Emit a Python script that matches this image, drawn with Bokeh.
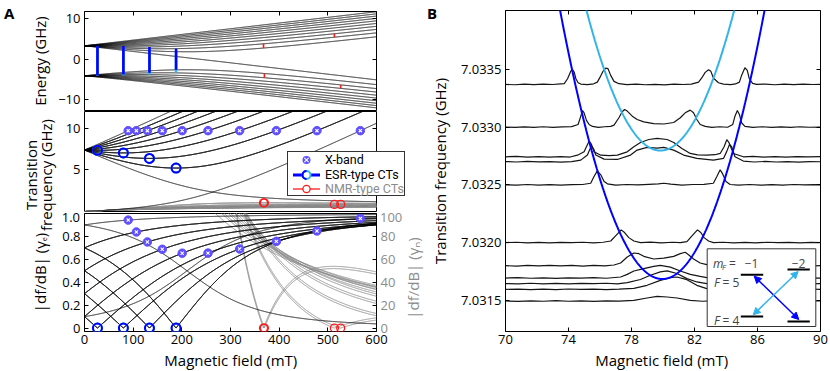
import numpy as np
from bokeh.plotting import figure
from bokeh.layouts import row, column
from bokeh.models import (Range1d, LinearAxis, FixedTicker, Label, BoxAnnotation, Arrow, NormalHead,
                          PrintfTickFormatter, Div)
from bokeh.embed import file_html
from bokeh.resources import INLINE

FONT = "Open Sans"
DARK_BLUE = "#0000ff"
LIGHT_BLUE = "#33b4e8"
RED = "#ff1a1a"
XBAND_COLOR = "#5f4fff"
GRAY = "#8f8f8f"
TEXT_GRAY = "#8c8c8c"

# ---------------- data ----------------
# spin-Hamiltonian parameters of the Si:Bi donor (S = 1/2, I = 9/2) used for panel A curves
A_HF_GHZ = 1.47517
GAMMA_E_GHZ_PER_T = 27.997
GAMMA_N_GHZ_PER_T = 0.0069618
NUCLEAR_SPIN = 4.5

ESR_CT_FIELDS_MT = [26.6, 79.9, 133.3, 187.8]
NMR_CT_FIELDS_MT = [367.0, 512.0, 526.0]
X_BAND_GHZ = 9.7

FIELD_TICKS_A = [0, 100, 200, 300, 400, 500, 600]
ENERGY_TICKS = [-10, 0, 10]
FREQ_TICKS_A = [5, 10]
SLOPE_E_TICKS = [0, 0.2, 0.4, 0.6, 0.8, 1.0]
SLOPE_N_TICKS = [0, 20, 40, 60, 80, 100]
FIELD_TICKS_B = [70, 74, 78, 82, 86, 90]
FREQ_TICKS_B = [7.0315, 7.0320, 7.0325, 7.0330, 7.0335]

LEGEND_LABELS = ["X-band", "ESR-type CTs", "NMR-type CTs"]

# measured field sweeps of panel B: baseline frequency (GHz), field (mT), signal (kHz on the plot scale)
TRACE_BASELINES_GHZ = [7.03337, 7.03300, 7.032743, 7.03270, 7.03250, 7.03200,
                       7.03180, 7.031693, 7.031645, 7.031595, 7.031494]
TRACE_FIELDS_MT = [
    [70.0,70.6,71.2,71.8,72.4,73.0,73.5,73.73,73.94,74.15,74.26,74.36,74.47,74.61,74.78,75.2,75.6,75.83,76.04,76.21,
     76.36,76.51,76.68,76.89,77.2,77.7,78.3,78.9,79.5,80.1,80.7,81.3,81.8,82.26,82.47,82.68,82.89,83.04,83.2,83.52,
     83.84,84.3,84.6,84.85,84.99,85.2,85.35,85.48,85.69,85.94,86.5,87.1,87.7,88.3,88.9,89.5,90.0],
    [70.0,70.6,71.2,71.8,72.4,73.0,73.6,74.2,74.61,74.78,74.89,74.99,75.14,75.31,75.52,75.9,76.3,76.68,76.89,77.2,
     77.41,77.56,77.73,78.05,78.36,78.78,79.41,80.05,80.68,81.1,81.41,81.73,81.94,82.15,82.36,82.68,83.1,83.6,84.1,84.43,
     84.57,84.72,84.85,84.99,85.2,85.7,86.3,86.9,87.5,88.1,88.7,89.3,90.0],
    [70.0,70.7,71.4,72.1,72.8,73.5,74.1,74.57,74.99,75.31,75.45,75.62,76.05,76.6,77.1,77.73,78.15,78.57,79.1,79.625,
     80.26,80.68,81.2,81.73,82.2,82.78,83.3,83.63,83.88,84.05,84.2,84.47,85.1,85.7,86.4,87.1,87.8,88.5,89.2,90.0],
    [70.0,70.7,71.4,72.1,72.8,73.5,74.2,74.78,75.2,75.455,75.6,75.73,76.26,77.1,77.94,78.36,78.99,79.625,80.05,80.68,
     81.31,82.15,83.2,83.84,84.05,84.22,84.36,84.57,85.1,85.8,86.5,87.2,87.9,88.6,89.3,90.0],
    [70.0,70.7,71.4,72.1,72.8,73.5,74.2,74.9,75.41,75.62,75.83,76.05,76.26,76.47,77.0,77.7,78.4,79.1,79.7,80.05,
     80.5,81.2,81.9,82.6,83.2,83.42,83.63,83.79,84.0,84.26,84.8,85.5,86.2,86.9,87.6,88.3,89.0,89.6,90.0],
    [70.0,70.7,71.4,72.1,72.8,73.5,74.2,74.9,75.6,76.2,76.68,76.99,77.35,77.56,77.83,78.15,78.57,79.2,79.9,80.6,
     81.1,81.52,81.84,82.19,82.4,82.61,82.89,83.2,83.8,84.5,85.2,85.9,86.6,87.3,88.0,88.7,89.4,90.0],
    [70.0,70.7,71.4,72.1,72.8,73.5,74.2,74.9,75.6,76.3,76.89,77.31,77.73,78.15,78.47,78.78,79.41,80.05,80.68,81.1,
     81.41,81.62,81.94,82.36,82.78,83.3,84.0,84.7,85.4,86.1,86.8,87.5,88.2,88.9,89.6,90.0],
    [70.0,70.8,71.6,72.4,73.2,74.0,74.8,75.6,76.4,77.31,77.73,78.15,78.78,79.41,79.83,80.47,81.1,81.73,82.36,82.78,
     83.5,84.3,85.1,85.9,86.7,87.5,88.3,89.1,90.0],
    [70.0,70.8,71.6,72.4,73.2,74.0,74.8,75.6,76.4,77.1,77.73,78.57,79.2,79.83,80.26,80.89,81.52,82.15,82.78,83.5,
     84.3,85.1,85.9,86.7,87.5,88.3,89.1,90.0],
    [70.0,70.8,71.6,72.4,73.2,74.0,74.8,75.6,76.4,77.2,78.15,78.99,79.83,80.47,80.89,81.52,82.15,82.78,83.5,84.3,
     85.1,85.9,86.7,87.5,88.3,89.1,90.0],
    [70.0,70.8,71.6,72.4,73.2,74.0,74.8,75.6,76.4,77.2,78.15,78.99,79.625,80.26,80.89,81.73,82.5,83.3,84.1,84.9,
     85.7,86.5,87.3,88.1,88.9,89.6,90.0],
]
TRACE_SIGNAL_KHZ = [
    [0,-3,2,-2,3,-1,4,6,49,116,127,107,49,14,3,-2,5,20,72,118,
     141,136,78,26,6,-2,3,-3,1,-4,2,-1,3,20,58,104,127,113,55,14,
     3,-2,4,20,78,144,121,49,9,0,3,-3,2,-2,3,-1,0],
    [1,-3,2,-2,3,-2,2,4,23,95,144,124,58,23,6,-2,3,6,17,81,
     133,153,139,95,66,46,30,27,40,81,124,147,124,66,23,6,-2,3,-1,23,
     95,144,110,38,6,-2,3,-3,2,-2,3,-1,0],
    [0,3,-2,2,-3,1,-2,14,43,136,110,43,14,10,14,43,87,124,150,159,
     150,124,72,29,16,14,18,29,87,148,120,29,0,3,-2,2,-3,2,-1,1],
    [2,-2,3,-1,2,-3,1,14,58,139,110,58,23,20,58,101,125,118,125,101,
     58,29,14,29,90,150,130,43,6,-2,3,-2,2,-3,1,0],
    [0,-2,3,-2,2,-3,2,3,14,72,121,87,29,9,-2,3,-1,4,8,14,
     6,-2,3,5,14,72,130,95,29,3,-2,3,-3,2,-2,3,-1,2,0],
    [0,3,-2,2,-3,2,-1,3,-2,3,14,58,110,87,43,14,0,4,-2,3,
     -1,9,58,110,87,43,14,0,3,-2,2,-3,3,-1,2,-3,2,0],
    [0,-3,2,-2,3,-1,2,-3,2,-1,6,23,75,110,104,81,58,66,81,104,
     116,95,58,23,9,2,-2,3,-2,2,-3,2,-1,3,-2,0],
    [0,3,-2,2,-3,2,-1,3,-2,9,32,61,81,101,110,95,61,32,14,3,
     -2,2,-3,2,-1,3,-2,2,0],
    [0,-2,3,-2,2,-3,2,-1,3,-2,9,35,72,101,110,87,43,14,0,3,
     -2,2,-3,2,-1,3,-2,0],
    [0,2,-3,2,-2,3,-1,2,-3,2,9,35,78,101,107,84,35,6,-2,3,
     -2,2,-3,2,-1,3,0],
    [0,-3,2,-2,3,-2,2,-3,2,-1,6,26,40,35,26,6,-2,3,-2,2,
     -3,2,-1,3,-2,2,0],
]

# ---------------- model ----------------
def level_energies(b_t):
    a, ge, gn, i_n = A_HF_GHZ, GAMMA_E_GHZ_PER_T, GAMMA_N_GHZ_PER_T, NUCLEAR_SPIN
    fmax = i_n + 0.5
    E = {}
    for m in range(-4, 5):
        h11 = ge * b_t / 2 - gn * b_t * (m - 0.5) + a / 2 * (m - 0.5)
        h22 = -ge * b_t / 2 - gn * b_t * (m + 0.5) - a / 2 * (m + 0.5)
        h12 = a / 2 * np.sqrt(fmax ** 2 - m ** 2)
        mean = (h11 + h22) / 2
        rad = np.sqrt(((h11 - h22) / 2) ** 2 + h12 ** 2)
        E[(5, m)] = mean + rad
        E[(4, m)] = mean - rad
    E[(5, 5)] = ge * b_t / 2 - gn * b_t * i_n + a * i_n / 2
    E[(5, -5)] = -ge * b_t / 2 + gn * b_t * i_n + a * i_n / 2
    return E

ESR_PLUS = [((4, m), (5, m + 1)) for m in range(-4, 5)]
ESR_MINUS = [((4, m), (5, m - 1)) for m in range(-4, 5)]
ESR_MIXED = [((5, -5), (5, -4))]
NMR_PAIRS = [((5, m), (5, m + 1)) for m in range(-4, 5)] + [((4, m), (4, m + 1)) for m in range(-4, 4)]
BLACK_PAIRS = ESR_PLUS + ESR_MINUS + ESR_MIXED

field_mt = np.linspace(0, 600, 2401)
field_t = field_mt / 1000.0
E = level_energies(field_t)
level_keys = sorted(E.keys())

def freq(pair):
    return np.abs(E[pair[1]] - E[pair[0]])

def dfdb(pair):
    return np.abs(np.gradient(freq(pair), field_t))

def turning_points(f, targets, tol):
    d = np.gradient(f, field_mt)
    out = []
    for i in range(1, len(d) - 1):
        if d[i] * d[i + 1] < 0:
            b0 = field_mt[i] - d[i] * (field_mt[i + 1] - field_mt[i]) / (d[i + 1] - d[i])
            if min(abs(b0 - t) for t in targets) < tol:
                out.append(b0)
    return out

def crossings(f, level):
    g = f - level
    idx = np.where(g[:-1] * g[1:] < 0)[0]
    return [field_mt[i] - g[i] * (field_mt[i + 1] - field_mt[i]) / (g[i + 1] - g[i]) for i in idx]

esr_cts = []
for pairs, col in ((ESR_MINUS, LIGHT_BLUE), (ESR_PLUS, DARK_BLUE)):
    for pr in pairs:
        for b0 in turning_points(freq(pr), ESR_CT_FIELDS_MT, 8.0):
            esr_cts.append((b0, pr, col))
nmr_cts = []
for pr in NMR_PAIRS:
    for b0 in turning_points(freq(pr), NMR_CT_FIELDS_MT, 8.0):
        nmr_cts.append((b0, pr))
xband = []
for pr in ESR_PLUS + ESR_MIXED:
    for b0 in crossings(freq(pr), X_BAND_GHZ)[:1]:
        xband.append((b0, pr))

# ---------------- helpers ----------------
def make_fig(xr, yr, fw, fh, bl, br, bt, bb):
    p = figure(x_range=xr, y_range=yr, frame_width=fw, frame_height=fh,
               min_border_left=bl, min_border_right=br, min_border_top=bt, min_border_bottom=bb,
               output_backend="svg", toolbar_location=None)
    p.grid.visible = False
    p.outline_line_color = "black"
    p.outline_line_width = 1
    p.outline_line_alpha = 1
    p.background_fill_color = "white"
    p.border_fill_color = "white"
    return p

def style_axis(ax, ticks, labels=True, color="black", fmt=None, standoff=4):
    ax.ticker = FixedTicker(ticks=ticks, minor_ticks=[])
    ax.major_tick_in = 4
    ax.major_tick_out = 0
    ax.major_tick_line_color = "black"
    ax.minor_tick_line_color = None
    ax.axis_line_color = None
    ax.major_label_text_font = FONT
    ax.major_label_text_color = color
    if labels:
        ax.major_label_text_font_size = "13px"
        ax.major_label_standoff = standoff
        if fmt is not None:
            ax.formatter = fmt
    else:
        ax.major_label_text_font_size = "0px"
        ax.major_label_standoff = 0
        ax.major_label_overrides = {t: "" for t in ticks}
    ax.axis_label_text_font = FONT
    ax.axis_label_text_font_size = "15px"
    ax.axis_label_text_font_style = "normal"
    ax.axis_label_text_color = color

def hidden_axis(p, ticks, side, **kw):
    ax = LinearAxis(**kw)
    style_axis(ax, ticks, labels=False)
    p.add_layout(ax, side)

FW = 292
BL, BR = 84, 50

# ---------------- panel A: energies ----------------
pE = make_fig(Range1d(0, 600), Range1d(-12.6, 11.75), FW, 99, BL, BR, 11, 1)
pE.xaxis.visible = False
style_axis(pE.yaxis[0], ENERGY_TICKS)
pE.yaxis[0].axis_label = "Energy (GHz)"
pE.yaxis[0].axis_label_standoff = 5
hidden_axis(pE, ENERGY_TICKS, "right")
hidden_axis(pE, FIELD_TICKS_A, "above")
pE.multi_line(xs=[field_mt] * len(level_keys), ys=[E[k] for k in level_keys],
              line_color="black", line_width=0.9)
for b0, pr, col in esr_cts:
    pE.line(x=[b0, b0], y=[float(np.interp(b0, field_mt, E[pr[0]])), float(np.interp(b0, field_mt, E[pr[1]]))],
            line_color=col, line_width=2.6)
for b0, pr in nmr_cts:
    pE.line(x=[b0, b0], y=[float(np.interp(b0, field_mt, E[pr[0]])), float(np.interp(b0, field_mt, E[pr[1]]))],
            line_color=RED, line_width=1.6)

# ---------------- panel A: transition frequencies ----------------
pM = make_fig(Range1d(0, 600), Range1d(0, 12), FW, 100, BL, BR, 0, 2)
pM.xaxis.visible = False
style_axis(pM.yaxis[0], FREQ_TICKS_A)
hidden_axis(pM, FREQ_TICKS_A, "right")
pM.multi_line(xs=[field_mt] * len(NMR_PAIRS), ys=[freq(pr) for pr in NMR_PAIRS],
              line_color=GRAY, line_width=1)
pM.multi_line(xs=[field_mt] * len(BLACK_PAIRS), ys=[freq(pr) for pr in BLACK_PAIRS],
              line_color="black", line_width=0.9)
pM.scatter(x=[b for b, _ in xband], y=[X_BAND_GHZ] * len(xband), marker="circle", size=8.5,
           fill_color=XBAND_COLOR, line_color=XBAND_COLOR)
pM.scatter(x=[b for b, _ in xband], y=[X_BAND_GHZ] * len(xband), marker="x", size=4.5,
           line_color="white", line_width=1.1)
for b0, pr, col in esr_cts:
    pM.scatter(x=[b0], y=[float(np.interp(b0, field_mt, freq(pr)))], marker="circle", size=9,
               fill_color=None, line_color=col, line_width=2)
pM.scatter(x=[b for b, _ in nmr_cts], y=[float(np.interp(b, field_mt, freq(pr))) for b, pr in nmr_cts],
           marker="circle", size=8, fill_color=None, line_color=RED, line_width=1.3)

# ---------------- panel A: |df/dB| ----------------
pD = make_fig(Range1d(0, 600), Range1d(-0.03, 1.0), FW, 118, BL, BR, 0, 40)
pD.extra_y_ranges = {"n": Range1d(-3, 100)}
style_axis(pD.xaxis[0], FIELD_TICKS_A, standoff=3)
style_axis(pD.yaxis[0], SLOPE_E_TICKS, fmt=PrintfTickFormatter(format="%.1f"))
pD.yaxis[0].major_label_overrides = {0: "0", 1: ""}   # the top label is drawn in the overlay
pD.yaxis[0].axis_label = "|df/dB| (γₑ)"
pD.yaxis[0].axis_label_standoff = 9
axR = LinearAxis(y_range_name="n")
style_axis(axR, SLOPE_N_TICKS, color=TEXT_GRAY)
axR.major_tick_line_color = "black"
axR.major_label_overrides = {100: ""}                 # drawn in the overlay
pD.add_layout(axR, "right")
pD.multi_line(xs=[field_mt] * len(NMR_PAIRS), ys=[dfdb(pr) / GAMMA_N_GHZ_PER_T for pr in NMR_PAIRS],
              line_color=GRAY, line_width=1, y_range_name="n")
pD.multi_line(xs=[field_mt] * len(BLACK_PAIRS), ys=[dfdb(pr) / GAMMA_E_GHZ_PER_T for pr in BLACK_PAIRS],
              line_color="black", line_width=0.9)
xb_slopes = [float(np.interp(b, field_mt, dfdb(pr))) / GAMMA_E_GHZ_PER_T for b, pr in xband]
pD.scatter(x=[b for b, _ in xband], y=xb_slopes, marker="circle", size=8.5,
           fill_color=XBAND_COLOR, line_color=XBAND_COLOR)
pD.scatter(x=[b for b, _ in xband], y=xb_slopes, marker="x", size=4.5, line_color="white", line_width=1.1)
for b0, pr, col in esr_cts:
    pD.scatter(x=[b0], y=[0.0], marker="circle", size=9, fill_color=None, line_color=col, line_width=2)
pD.scatter(x=[b for b, _ in nmr_cts], y=[0.0] * len(nmr_cts), marker="circle", size=8,
           fill_color=None, line_color=RED, line_width=1.3)

# ---------------- panel B ----------------
BW, BH = 315, 321
YB0, YB1 = 7.03123, 7.03401
pB = make_fig(Range1d(70, 90), Range1d(YB0, YB1), BW, BH, 78, 11, 10, 40)
style_axis(pB.xaxis[0], FIELD_TICKS_B, standoff=3)
style_axis(pB.yaxis[0], FREQ_TICKS_B, fmt=PrintfTickFormatter(format="%.4f"))
pB.yaxis[0].axis_label = "Transition frequency (GHz)"
pB.yaxis[0].axis_label_standoff = 8
hidden_axis(pB, FIELD_TICKS_B, "above")
hidden_axis(pB, FREQ_TICKS_B, "right")

for base, xs_, dy in zip(TRACE_BASELINES_GHZ, TRACE_FIELDS_MT, TRACE_SIGNAL_KHZ):
    pB.line(x=xs_, y=[base + v * 1e-6 for v in dy], line_color="#151515", line_width=1.2)

field_b_mt = np.linspace(70, 90, 801)
Eb = level_energies(field_b_mt / 1000.0)
pB.line(x=field_b_mt, y=np.abs(Eb[(5, -2)] - Eb[(4, -1)]), line_color=LIGHT_BLUE, line_width=2)
pB.line(x=field_b_mt, y=np.abs(Eb[(5, -1)] - Eb[(4, -2)]), line_color=DARK_BLUE, line_width=2)

def bx(px):
    return 70 + px * 20.0 / BW

def fy(py):
    return YB1 - py * (YB1 - YB0) / BH

pB.add_layout(BoxAnnotation(left=bx(201.7), right=bx(310.3), top=fy(238.3), bottom=fy(316),
                            fill_color="white", fill_alpha=1, line_color="#333333", line_width=1, line_alpha=1))
for (x0, x1, yy) in [(235.3, 257.7, 264.3), (282, 304.3, 259), (235.3, 257.7, 306), (282, 304.3, 311)]:
    pB.add_layout(Arrow(x_start=bx(x0), y_start=fy(yy), x_end=bx(x1), y_end=fy(yy), start=None, end=None,
                        line_color="black", line_width=2))
for (x0, y0, x1, y1, col) in [(248.7, 265.7, 293.3, 309, DARK_BLUE), (247.7, 304.3, 292.7, 261, LIGHT_BLUE)]:
    pB.add_layout(Arrow(x_start=bx(x0), y_start=fy(y0), x_end=bx(x1), y_end=fy(y1),
                        start=NormalHead(size=7, fill_color=col, line_color=col),
                        end=NormalHead(size=7, fill_color=col, line_color=col),
                        line_color=col, line_width=1.5))
inset_labels = [
    ("m", 207.5, 253.3, "12px", "italic", "left"),
    ("F", 216.5, 256.3, "8px", "italic", "left"),
    ("=", 223.5, 253.3, "12px", "normal", "left"),
    ("−1", 246.0, 253.3, "12px", "normal", "center"),
    ("−2", 293.0, 253.3, "12px", "normal", "center"),
    ("F", 208.5, 272.0, "12px", "italic", "left"),
    ("= 5", 217.0, 272.0, "12px", "normal", "left"),
    ("F", 208.5, 310.0, "12px", "italic", "left"),
    ("= 4", 217.0, 310.0, "12px", "normal", "left"),
]
for txt, px, py, fs, st, al in inset_labels:
    pB.add_layout(Label(x=bx(px), y=fy(py), text=txt, text_font=FONT, text_font_size=fs,
                        text_font_style=st, text_align=al, text_baseline="alphabetic"))

# ---------------- HTML overlay (texts outside the plot frames, and the legend) ----------------
OVERLAY_DY = 8  # the overlay's content box starts this far below the layout's top edge


def place(html, left, top, w, h, style):
    return ('<div style="position:absolute;left:%.1fpx;top:%.1fpx;width:%dpx;height:%dpx;%s">%s</div>'
            % (left, top - OVERLAY_DY, w, h, style, html))


svg_x = ('<svg width="27" height="14" style="display:block"><circle cx="13.5" cy="7" r="4" fill="%s"/>'
         '<path d="M11.4 4.9 L15.6 9.1 M15.6 4.9 L11.4 9.1" stroke="white" stroke-width="1.1"/></svg>' % XBAND_COLOR)
svg_esr = ('<svg width="27" height="14" style="display:block">'
           '<line x1="0" y1="7" x2="27" y2="7" stroke="%s" stroke-width="3"/>'
           '<circle cx="13.5" cy="7" r="4" fill="white" stroke="%s" stroke-width="2"/>'
           '<path d="M13.5 3 A4 4 0 0 0 13.5 11" fill="none" stroke="%s" stroke-width="2"/></svg>'
           % (DARK_BLUE, LIGHT_BLUE, DARK_BLUE))
svg_nmr = ('<svg width="27" height="14" style="display:block">'
           '<line x1="0" y1="7" x2="27" y2="7" stroke="%s" stroke-width="1.3"/>'
           '<circle cx="13.5" cy="7" r="3.6" fill="white" stroke="%s" stroke-width="1.3"/></svg>' % (RED, RED))
rows_html = ""
for svg, txt, col in zip([svg_x, svg_esr, svg_nmr], LEGEND_LABELS, ["black", "black", TEXT_GRAY]):
    rows_html += ('<div style="display:flex;align-items:center;height:14.6px;">%s'
                  '<span style="margin-left:5px;color:%s;white-space:nowrap;">%s</span></div>' % (svg, col, txt))

common = "font-family:'%s';color:black;white-space:nowrap;" % FONT
rot = "transform:rotate(-90deg);transform-origin:50% 50%;text-align:center;"
pieces = [
    place("A", 4, 0, 18, 18, common + "font-size:15px;font-weight:bold;line-height:18px;"),
    place("B", 427, 0, 18, 18, common + "font-size:15px;font-weight:bold;line-height:18px;"),
    place("Magnetic field (mT)", 130.8, 348, 200, 16, common + "font-size:15px;line-height:16px;text-align:center;"),
    place("Magnetic field (mT)", 561.7, 348, 200, 16, common + "font-size:15px;line-height:16px;text-align:center;"),
    place("Transition<br>frequency (GHz)", 39.2 - 65, 171 - 15, 130, 30,
          common + "font-size:15px;line-height:15px;" + rot),
    place("|df/dB| (γₙ)", 413 - 50, 274 - 9, 100, 18,
          common + "font-size:15px;line-height:18px;color:%s;" % TEXT_GRAY + rot),
    place("1.0", 50, 205, 30, 16, common + "font-size:13px;line-height:16px;text-align:right;"),
    place("100", 380, 205, 30, 16, common + "font-size:13px;line-height:16px;color:%s;" % TEXT_GRAY),
    place(rows_html, 287, 147, 118, 45,
          "font-family:'Roboto';font-size:12.5px;line-height:14px;background:white;border:1px solid #333;"
          "box-sizing:border-box;padding:1px 0 0 5px;"),
]
overlay = Div(text='<div style="position:relative;width:0;height:0;">' + "".join(pieces) + "</div>",
              width=830, height=0, margin=0,
              styles={"overflow": "visible", "position": "relative", "z-index": "10"})

layout = column(overlay, row(column(pE, pM, pD), pB))
open("out.html", "w").write(file_html(layout, INLINE, title="Clock transitions"))
